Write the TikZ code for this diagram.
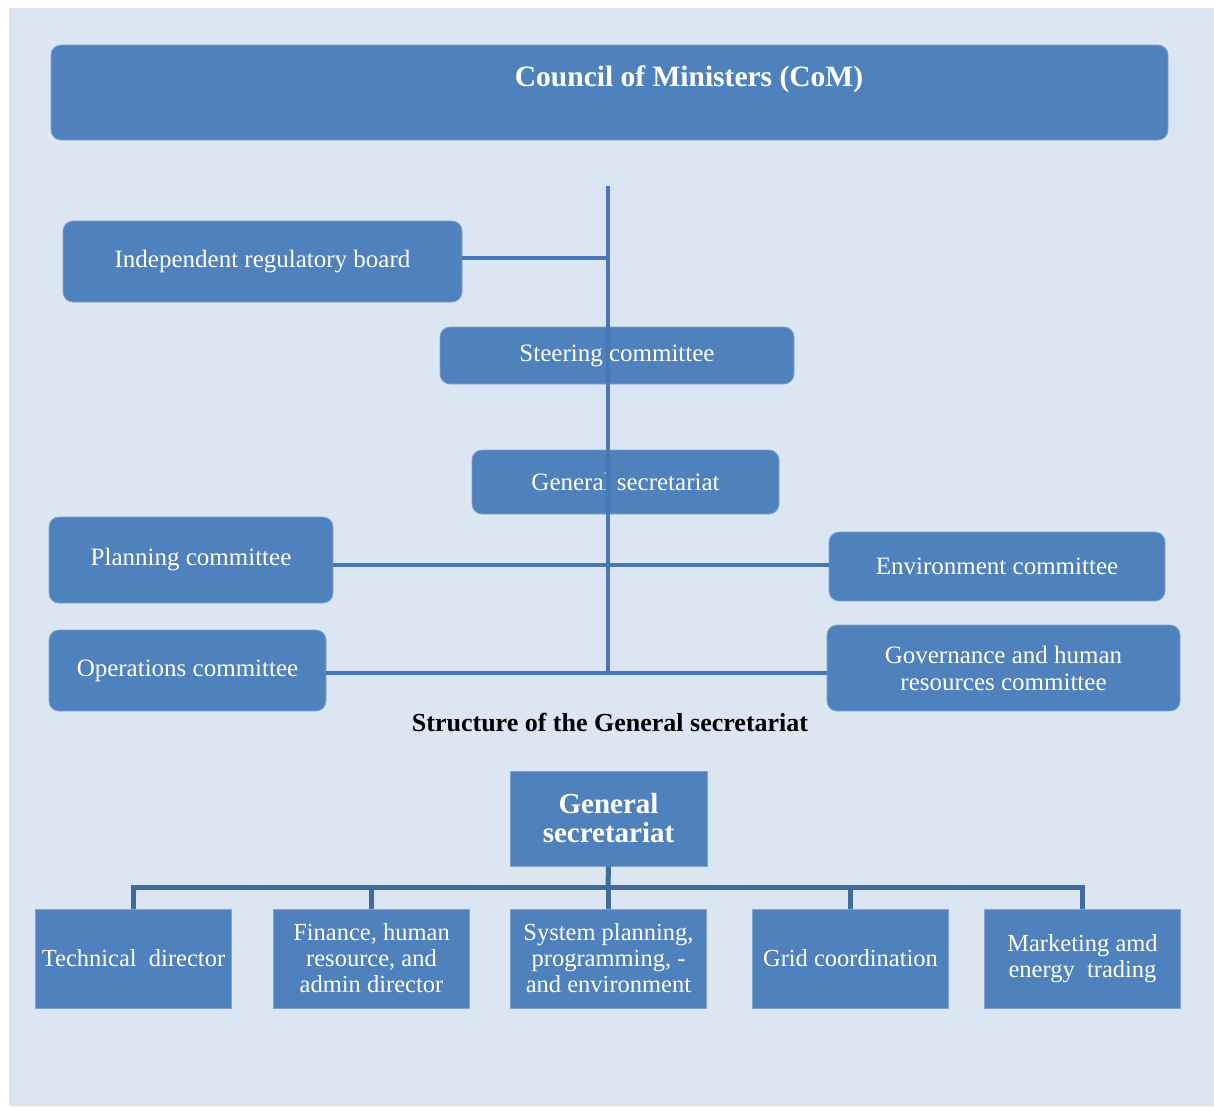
\documentclass[tikz,border=0pt]{standalone}
\usepackage{fontspec}
\setmainfont{Liberation Serif}
\usetikzlibrary{positioning}
\definecolor{boxblue}{HTML}{4F81BD}
\definecolor{bgblue}{HTML}{DCE6F2}
\definecolor{spineblue}{HTML}{4677B8}
\definecolor{linkblue}{HTML}{3F6B9E}
\definecolor{rimblue}{HTML}{7EA3D1}

\begin{document}
\begin{tikzpicture}[x=1pt,y=-1pt,
  unit/.style={fill=boxblue,draw=rimblue,line width=0.8pt,text=white,inner sep=0pt,align=center,font=\fontsize{25}{27}\selectfont},
  board/.style={unit,rounded corners=10pt},
  dept/.style={unit,minimum width=196pt,minimum height=99pt,font=\fontsize{24.5}{26}\selectfont},
  spine/.style={draw=spineblue,line width=4pt},
  link/.style={draw=linkblue,line width=5pt}]
  \useasboundingbox (0,0) rectangle (1214,1106);
  \fill[bgblue] (9,8) rectangle (1214,1106);

  \node[board,minimum width=1117pt,minimum height=95pt] (com) at (609.5,92.5) {};
  \node[text=white,font=\bfseries\fontsize{29.5}{32}\selectfont] (comtext) at (689,79) {Council of Ministers (CoM)};
  \node[board,minimum width=399pt,minimum height=81pt] (irb) at (262.5,261.5) {Independent regulatory board};
  \node[board,minimum width=354pt,minimum height=57pt] (steer) at (617,355.5) {Steering committee};
  \node[board,minimum width=307pt,minimum height=64pt] (gsec) at (625.5,482) {General secretariat};
  \node[board,minimum width=284pt,minimum height=86pt] (plan) at (191,560) {Planning committee};
  \node[board,minimum width=336pt,minimum height=69pt] (env) at (997,566.5) {Environment committee};
  \node[board,minimum width=277pt,minimum height=81pt] (ops) at (187.5,670.5) {Operations committee};
  \node[board,minimum width=353pt,minimum height=86pt] (gov) at (1003.5,668) {Governance and human\\resources committee};

  \coordinate (top) at (608,186);
  \coordinate (m1) at (608,565);
  \coordinate (m2) at (608,673);
  \path[spine] (top) edge (m2)
    ([yshift=4pt]irb.east) edge ([yshift=4pt]irb.east -| top)
    (m1 -| plan.east) edge (m1 -| env.west)
    (m2 -| ops.east) edge (m2 -| gov.west);

  \node[font=\bfseries\fontsize{26}{28}\selectfont] (caption) at (610,722) {Structure of the General secretariat};

  \node[unit,minimum width=197pt,minimum height=95pt,font=\bfseries\fontsize{29}{29}\selectfont] (gs) at (608.5,818.5) {General\\secretariat};
  \node[dept] (d1) at (133.5,958.5) {Technical~ director};
  \node[dept] (d2) at (371.5,958.5) {Finance, human\\resource, and\\admin director};
  \node[dept] (d3) at (608.5,958.5) {System planning,\\programming, -\\and environment};
  \node[dept] (d4) at (850.5,958.5) {Grid coordination};
  \node[dept] (d5) at (1082.5,958.5) {Marketing amd\\energy~ trading};

  \coordinate (bus) at (608,887);
  \draw[link] (gs.south) -- (bus);
  \draw[link] (d1.north) -- (d1.north |- bus) -- (d5.north |- bus) -- (d5.north);
  \foreach \d in {d2,d3,d4}
    \draw[link] (\d.north) -- (\d.north |- bus);
\end{tikzpicture}
\end{document}
